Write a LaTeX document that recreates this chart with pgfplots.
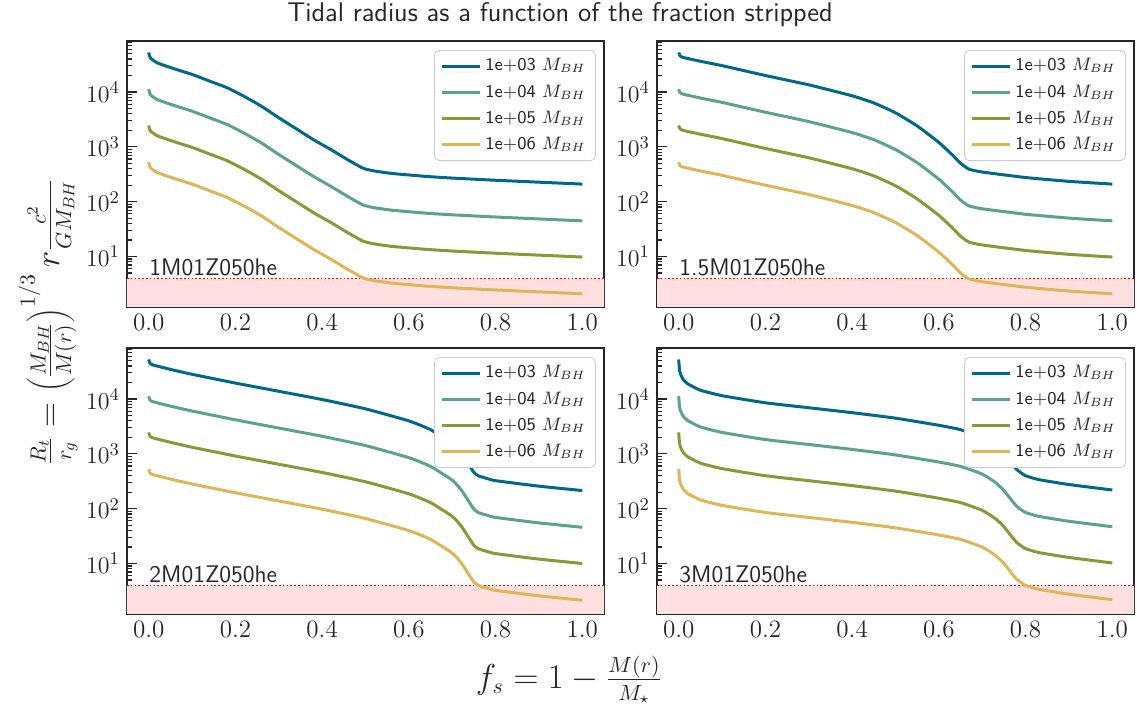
\documentclass[border=0pt]{standalone}
\usepackage{pgfplots}
\usepackage{pgfplotstable}
\pgfplotsset{compat=1.18}
\definecolor{cA}{RGB}{0,104,139}
\definecolor{cB}{RGB}{91,163,143}
\definecolor{cC}{RGB}{134,154,54}
\definecolor{cD}{RGB}{224,181,88}
\definecolor{axgray}{RGB}{38,38,38}
\definecolor{shade}{RGB}{255,224,225}

\pgfplotstableread{
x a b c d
0 52480 11220 2455 524.8
0.004 41690 8913 1950 416.9
0.02 33880 7244 1585 338.8
0.06 26300 5623 1230 263.0
0.1 20890 4467 977.2 208.9
0.14 15850 3388 741.3 158.5
0.18 12020 2570 562.3 120.2
0.22 8318 1778 389.0 83.18
0.26 5495 1175 257.0 54.95
0.3 3388 724.4 158.5 33.88
0.34 2138 457.1 100.0 21.38
0.38 1349 288.4 63.10 13.49
0.42 891.3 190.5 41.69 8.913
0.46 575.4 123.0 26.92 5.754
0.48 467.7 100.0 21.88 4.677
0.49 421.7 90.16 19.72 4.217
0.5 393.6 84.14 18.41 3.936
0.52 363.1 77.62 16.98 3.631
0.56 327.3 69.98 15.31 3.273
0.64 288.4 61.66 13.49 2.884
0.7 269.2 57.54 12.59 2.692
0.8 245.5 52.48 11.48 2.455
0.9 226.5 48.42 10.59 2.265
1.0 208.9 44.67 9.772 2.089
}\tA

\pgfplotstableread{
x a b c d
0 52480 11220 2455 524.8
0.003 45710 9772 2138 457.1
0.01 42660 9120 1995 426.6
0.05 36310 7762 1698 363.1
0.1 30200 6457 1413 302.0
0.2 19950 4266 933.3 199.5
0.3 13490 2884 631.0 134.9
0.4 8511 1820 398.1 85.11
0.45 6310 1349 295.1 63.10
0.5 4169 891.3 195.0 41.69
0.55 2399 512.9 112.2 23.99
0.6 1202 257.0 56.23 12.02
0.63 724.4 154.9 33.88 7.244
0.65 501.2 107.2 23.44 5.012
0.66 436.5 93.33 20.42 4.365
0.67 389.0 83.18 18.20 3.890
0.7 346.7 74.13 16.22 3.467
0.8 275.4 58.88 12.88 2.754
0.9 234.4 50.12 10.96 2.344
1.0 208.9 44.67 9.772 2.089
}\tB

\pgfplotstableread{
x a b c d
0 52480 11220 2455 524.8
0.003 44670 9550 2089 446.7
0.01 41690 8913 1950 416.9
0.05 34670 7413 1622 346.7
0.1 28180 6026 1318 281.8
0.2 19500 4169 912.0 195.0
0.3 13800 2951 645.7 138.0
0.4 9772 2089 457.1 97.72
0.5 6607 1413 309.0 66.07
0.6 3981 851.1 186.2 39.81
0.65 2754 588.8 128.8 27.54
0.7 1549 331.1 72.44 15.49
0.72 1047 223.9 48.98 10.47
0.74 602.6 128.8 28.18 6.026
0.75 457.1 97.72 21.38 4.571
0.76 398.1 85.11 18.62 3.981
0.78 354.8 75.86 16.60 3.548
0.8 323.6 69.18 15.14 3.236
0.9 257.0 54.95 12.02 2.570
1.0 213.8 45.71 10.00 2.138
}\tC

\pgfplotstableread{
x a b c d
0 52480 11220 2455 524.8
0.002 33110 7079 1549 331.1
0.005 27540 5888 1288 275.4
0.01 22910 4898 1072 229.1
0.02 19050 4074 891.3 190.5
0.05 14450 3090 676.1 144.5
0.1 11480 2455 537.0 114.8
0.2 8511 1820 398.1 85.11
0.3 6918 1479 323.6 69.18
0.4 5623 1202 263.0 56.23
0.5 4467 955.0 208.9 44.67
0.6 3311 707.9 154.9 33.11
0.65 2754 588.8 128.8 27.54
0.7 1995 426.6 93.33 19.95
0.73 1413 302.0 66.07 14.13
0.75 1000 213.8 46.77 10.00
0.77 631.0 134.9 29.51 6.310
0.78 512.9 109.6 23.99 5.129
0.79 446.7 95.50 20.89 4.467
0.8 398.1 85.11 18.62 3.981
0.83 338.8 72.44 15.85 3.388
0.9 275.4 58.88 12.88 2.754
1.0 218.8 46.77 10.23 2.188
}\tD

\pgfplotsset{
  legend image code/.code={\draw[#1, line width=1.5pt] (0pt,0pt) -- (19pt,0pt);},
}

\newcommand{\panelcontent}[2]{%
  \addplot[draw=none, fill=shade, forget plot] coordinates {(-0.05,1) (1.05,1) (1.05,4) (-0.05,4) (-0.05,1)};
  \addplot[red, line width=0.8pt, dash pattern=on 0.8pt off 1.1pt, forget plot] coordinates {(-0.05,4) (1.05,4)};
  \addplot[line width=1.5pt, line join=round, smooth, tension=0.3, cA] table[x=x, y=a] {#1};
  \addplot[line width=1.5pt, line join=round, smooth, tension=0.3, cB] table[x=x, y=b] {#1};
  \addplot[line width=1.5pt, line join=round, smooth, tension=0.3, cC] table[x=x, y=c] {#1};
  \addplot[line width=1.5pt, line join=round, smooth, tension=0.3, cD] table[x=x, y=d] {#1};
  \addlegendentry{1e+03 $M_{BH}$}
  \addlegendentry{1e+04 $M_{BH}$}
  \addlegendentry{1e+05 $M_{BH}$}
  \addlegendentry{1e+06 $M_{BH}$}
  \node[anchor=base west, inner sep=0pt, font=\sffamily\fontsize{12}{14}\selectfont, text=axgray] at (rel axis cs:0.046,0.117) {#2};
}

\begin{document}
\begin{tikzpicture}
\path[use as bounding box] (0pt,0pt) rectangle (568.5pt,-352.5pt);

\begin{semilogyaxis}[at={(63.5pt,-20.5pt)}, anchor=north west,
    scale only axis, width=238.5pt, height=133pt,
    xmin=-0.05, xmax=1.05, ymin=1.2, ymax=85000,
    xtick={0,0.2,0.4,0.6,0.8,1.0},
    xticklabels={0.0,0.2,0.4,0.6,0.8,1.0},
    tick align=inside, xtick pos=left, ytick pos=left,
    axis line style={draw=axgray, line width=1pt},
    major tick length=5pt, minor tick length=2.5pt,
    every tick/.append style={axgray, line width=0.6pt},
    tick label style={font=\fontsize{12.5}{14}\selectfont, text=axgray},
    legend style={at={(0.983,0.966)}, anchor=north east, draw=black!20, rounded corners=2.5pt,
      fill=white, font=\sffamily\fontsize{9}{10}\selectfont, inner xsep=3pt, inner ysep=2pt, row sep=1.5pt, text=axgray},
    legend cell align=left]
\panelcontent{\tA}{1M01Z050he}
\end{semilogyaxis}

\begin{semilogyaxis}[at={(328.5pt,-20.5pt)}, anchor=north west,
    scale only axis, width=238.5pt, height=133pt,
    xmin=-0.05, xmax=1.05, ymin=1.2, ymax=85000,
    xtick={0,0.2,0.4,0.6,0.8,1.0},
    xticklabels={0.0,0.2,0.4,0.6,0.8,1.0},
    tick align=inside, xtick pos=left, ytick pos=left,
    axis line style={draw=axgray, line width=1pt},
    major tick length=5pt, minor tick length=2.5pt,
    every tick/.append style={axgray, line width=0.6pt},
    tick label style={font=\fontsize{12.5}{14}\selectfont, text=axgray},
    legend style={at={(0.983,0.966)}, anchor=north east, draw=black!20, rounded corners=2.5pt,
      fill=white, font=\sffamily\fontsize{9}{10}\selectfont, inner xsep=3pt, inner ysep=2pt, row sep=1.5pt, text=axgray},
    legend cell align=left]
\panelcontent{\tB}{1.5M01Z050he}
\end{semilogyaxis}

\begin{semilogyaxis}[at={(63.5pt,-174pt)}, anchor=north west,
    scale only axis, width=238.5pt, height=133pt,
    xmin=-0.05, xmax=1.05, ymin=1.2, ymax=85000,
    xtick={0,0.2,0.4,0.6,0.8,1.0},
    xticklabels={0.0,0.2,0.4,0.6,0.8,1.0},
    tick align=inside, xtick pos=left, ytick pos=left,
    axis line style={draw=axgray, line width=1pt},
    major tick length=5pt, minor tick length=2.5pt,
    every tick/.append style={axgray, line width=0.6pt},
    tick label style={font=\fontsize{12.5}{14}\selectfont, text=axgray},
    legend style={at={(0.983,0.966)}, anchor=north east, draw=black!20, rounded corners=2.5pt,
      fill=white, font=\sffamily\fontsize{9}{10}\selectfont, inner xsep=3pt, inner ysep=2pt, row sep=1.5pt, text=axgray},
    legend cell align=left]
\panelcontent{\tC}{2M01Z050he}
\end{semilogyaxis}

\begin{semilogyaxis}[at={(328.5pt,-174pt)}, anchor=north west,
    scale only axis, width=238.5pt, height=133pt,
    xmin=-0.05, xmax=1.05, ymin=1.2, ymax=85000,
    xtick={0,0.2,0.4,0.6,0.8,1.0},
    xticklabels={0.0,0.2,0.4,0.6,0.8,1.0},
    tick align=inside, xtick pos=left, ytick pos=left,
    axis line style={draw=axgray, line width=1pt},
    major tick length=5pt, minor tick length=2.5pt,
    every tick/.append style={axgray, line width=0.6pt},
    tick label style={font=\fontsize{12.5}{14}\selectfont, text=axgray},
    legend style={at={(0.983,0.966)}, anchor=north east, draw=black!20, rounded corners=2.5pt,
      fill=white, font=\sffamily\fontsize{9}{10}\selectfont, inner xsep=3pt, inner ysep=2pt, row sep=1.5pt, text=axgray},
    legend cell align=left]
\panelcontent{\tD}{3M01Z050he}
\end{semilogyaxis}

\node[anchor=base, font=\sffamily\fontsize{13.5}{15}\selectfont, text=axgray] at (280pt,-11pt) {Tidal radius as a function of the fraction stripped};
\node[font=\fontsize{16}{18}\selectfont, text=axgray] at (284.5pt,-340pt) {$f_s = 1 - \frac{M(r)}{M_\star}$};
\node[rotate=90, font=\fontsize{16}{18}\selectfont, text=axgray] at (24pt,-161pt) {$\frac{R_t}{r_g} = \left(\frac{M_{BH}}{M(r)}\right)^{1/3} r\frac{c^2}{GM_{BH}}$};
\end{tikzpicture}
\end{document}
